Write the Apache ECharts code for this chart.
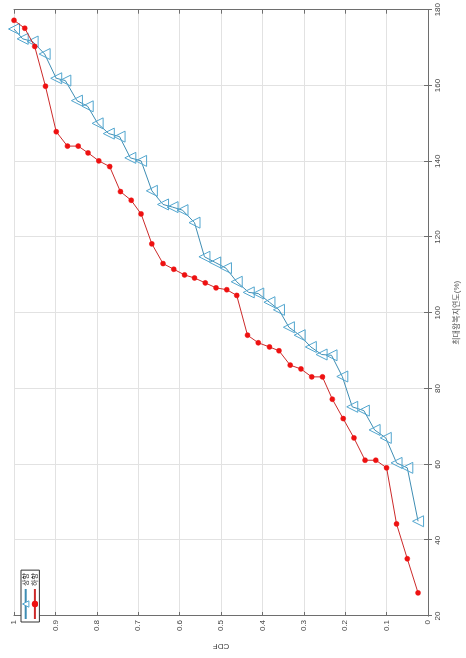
<!DOCTYPE html>
<html>
<head>
<meta charset="utf-8">
<script src="https://cdn.jsdelivr.net/npm/echarts@6/dist/echarts.min.js"></script>
<style>
  html, body { margin: 0; padding: 0; background: #fff; }
  #wrap { position: relative; width: 466px; height: 658px; overflow: hidden; background: #fff; }
  #chart { position: absolute; left: 0; top: 0; width: 658px; height: 466px;
           transform-origin: 0 0; transform: translate(0px, 658px) rotate(-90deg); }
</style>
</head>
<body>
<div id="wrap"><div id="chart"></div></div>
<script>
// Series: 상향 (blue triangles)
const delayUp = [45.0, 59.1, 60.4, 67.0, 69.1, 74.2, 75.2, 83.2, 88.8, 89.0, 91.0, 94.1, 96.2, 100.8, 102.8, 105.1, 105.4, 108.2, 111.8, 113.3, 114.8, 123.8, 127.1, 127.9, 128.6, 132.2, 140.1, 140.9, 146.5, 147.3, 150.0, 154.5, 156.0, 161.3, 161.9, 168.3, 171.6, 172.3, 174.9];
const cdfUp = [0.024, 0.050, 0.076, 0.102, 0.129, 0.155, 0.183, 0.207, 0.233, 0.257, 0.283, 0.310, 0.336, 0.360, 0.383, 0.410, 0.433, 0.462, 0.488, 0.514, 0.540, 0.564, 0.593, 0.617, 0.640, 0.667, 0.693, 0.719, 0.745, 0.771, 0.798, 0.822, 0.848, 0.876, 0.898, 0.926, 0.955, 0.979, 1.000];
// Series: 하향 (red dots)
const delayDown = [26.1, 35.1, 44.3, 59.1, 61.1, 61.1, 67.0, 72.1, 77.2, 83.1, 83.1, 85.2, 86.2, 90.0, 91.0, 92.1, 94.1, 104.6, 106.1, 106.6, 107.9, 109.2, 110.0, 111.5, 113.0, 118.2, 126.1, 129.7, 132.0, 138.6, 140.1, 142.2, 144.0, 144.0, 147.8, 159.8, 170.3, 175.1, 177.2];
const cdfDown = [0.024, 0.050, 0.076, 0.100, 0.126, 0.152, 0.179, 0.205, 0.231, 0.255, 0.281, 0.307, 0.333, 0.360, 0.383, 0.410, 0.436, 0.462, 0.486, 0.512, 0.538, 0.564, 0.588, 0.614, 0.640, 0.667, 0.693, 0.717, 0.743, 0.769, 0.795, 0.821, 0.845, 0.871, 0.898, 0.924, 0.950, 0.974, 1.000];
const seriesNames = ['상향', '하향'];
const xTitle = '최대왕복지연도(%)';
const yTitle = 'CDF';

const font = "'Liberation Sans', 'Noto Sans CJK KR', sans-serif";
const axisColor = '#6e6e6e';
const labelColor = '#444';
const gridColor = '#e2e2e2';
const blueLine = '#3f8db3';
const blueMark = '#52a6cf';
const redLine = '#cc2a2a';
const redMark = '#ee1111';

const chart = echarts.init(document.getElementById('chart'), null, { renderer: 'canvas', width: 658, height: 466 });

const pairs = (xs, ys) => xs.map((v, i) => [v, ys[i]]);

const baseAxis = {
  axisLine: { show: true, lineStyle: { color: axisColor, width: 1 } },
  axisTick: { show: true, inside: true, length: 4, lineStyle: { color: axisColor } },
};

chart.setOption({
  animation: false,
  backgroundColor: '#fff',
  textStyle: { fontFamily: font },
  grid: { left: 27, right: 5, top: 14, bottom: 32, containLabel: false },
  legend: {
    orient: 'vertical', left: 36, top: 21,
    data: [
      { name: seriesNames[0], itemStyle: { color: '#fff', borderColor: blueMark, borderWidth: 1 } },
      { name: seriesNames[1], itemStyle: { color: redMark, borderColor: redMark, borderWidth: 0 } }
    ],
    itemWidth: 30, itemHeight: 8, itemGap: 2,
    padding: [1, 3, 1, 2],
    borderColor: '#333', borderWidth: 1, backgroundColor: '#fff',
    textStyle: { fontSize: 7, color: '#333', fontFamily: font, padding: [0, 0, 0, -2] }
  },
  xAxis: [
    Object.assign({}, baseAxis, {
      type: 'value', min: 20, max: 180, interval: 20, position: 'bottom',
      name: xTitle, nameLocation: 'middle', nameGap: 25,
      nameTextStyle: { fontSize: 8, color: '#555', fontFamily: font },
      axisLabel: { fontSize: 8, color: labelColor, margin: 6 },
      splitLine: { show: true, lineStyle: { color: gridColor, width: 1 } }
    }),
    Object.assign({}, baseAxis, {
      type: 'value', min: 20, max: 180, interval: 20, position: 'top',
      axisLabel: { show: false }, splitLine: { show: false }
    })
  ],
  yAxis: [
    Object.assign({}, baseAxis, {
      type: 'value', min: 0, max: 1, interval: 0.1, position: 'left',
      name: yTitle, nameLocation: 'middle', nameGap: 18,
      nameTextStyle: { fontSize: 8, color: '#444', fontFamily: font },
      axisLabel: { fontSize: 8, color: labelColor, margin: 4 },
      splitLine: { show: true, lineStyle: { color: gridColor, width: 1 } }
    }),
    Object.assign({}, baseAxis, {
      type: 'value', min: 0, max: 1, interval: 0.1, position: 'right',
      axisLabel: { show: false }, splitLine: { show: false }
    })
  ],
  series: [
    {
      name: seriesNames[0], type: 'line', xAxisIndex: 0, yAxisIndex: 0,
      data: pairs(delayUp, cdfUp),
      symbol: 'triangle', symbolSize: [11, 11], showAllSymbol: true,
      lineStyle: { color: blueLine, width: 1 },
      itemStyle: { color: 'rgba(255,255,255,0)', borderColor: blueMark, borderWidth: 1 },
      z: 2
    },
    {
      name: seriesNames[1], type: 'line', xAxisIndex: 0, yAxisIndex: 0,
      data: pairs(delayDown, cdfDown),
      symbol: 'circle', symbolSize: 5, showAllSymbol: true,
      lineStyle: { color: redLine, width: 1 },
      itemStyle: { color: redMark, borderColor: redMark, borderWidth: 0.5 },
      z: 3
    }
  ]
});
</script>
</body>
</html>
